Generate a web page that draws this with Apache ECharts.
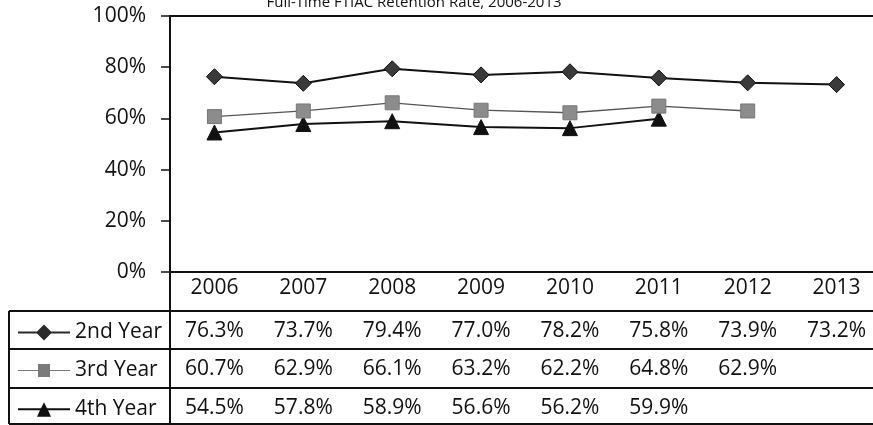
<!DOCTYPE html>
<html><head><meta charset="utf-8">
<script src="https://cdn.jsdelivr.net/npm/echarts@6/dist/echarts.min.js"></script>
<style>html,body{margin:0;padding:0;background:#fff}#c{width:873px;height:425px}</style>
</head><body><div id="c"></div>
<script>
const chartTitle = 'Full-Time FTIAC Retention Rate, 2006-2013';
const years = ['2006','2007','2008','2009','2010','2011','2012','2013'];
const seriesNames = ['2nd Year','3rd Year','4th Year'];
const year2 = [76.3, 73.7, 79.4, 77.0, 78.2, 75.8, 73.9, 73.2];
const year3 = [60.7, 62.9, 66.1, 63.2, 62.2, 64.8, 62.9, null];
const year4 = [54.5, 57.8, 58.9, 56.6, 56.2, 59.9, null, null];
const yMin = 0, yMax = 100, yStep = 20;

const FONT = 'Open Sans';
const FS = 21;
const gridLeft = 170, gridTop = 16, gridBottomY = 272, gridWidth = 711;
const rowOffsets = [39, 77, 116];
const tableBottom = 424;
const tableLeft = 9;
const W = 873, H = 425;

const fmt = v => (v == null ? '' : v.toFixed(1) + '%');
const rows = [year2, year3, year4];

const chart = echarts.init(document.getElementById('c'), null, {renderer: 'canvas'});

const xAxes = [{
  type: 'category', data: years, gridIndex: 0, position: 'bottom',
  axisLine: {show: true, lineStyle: {color: '#111', width: 2}},
  axisTick: {show: false},
  axisLabel: {interval: 0, margin: 6, fontSize: FS, fontFamily: FONT, color: '#111'}
}];
rows.forEach((r, i) => {
  xAxes.push({
    type: 'category', data: r.map(fmt), gridIndex: 0, position: 'bottom', offset: rowOffsets[i],
    axisLine: {show: true, onZero: false, lineStyle: {color: '#111', width: 2}},
    axisTick: {show: false},
    axisLabel: {interval: 0, margin: 10, fontSize: FS, fontFamily: FONT, color: '#111'}
  });
});
xAxes.push({
  type: 'category', data: years, gridIndex: 0, position: 'top',
  axisLine: {show: true, lineStyle: {color: '#111', width: 2}},
  axisTick: {show: false}, axisLabel: {show: false}
});

const styles = [
  {line: {color: '#111', width: 2}, item: {color: '#3a3a3a', borderColor: '#111', borderWidth: 1}, symbol: 'diamond', size: 16,
   legendIcon: 'path://M0,7H19L26,0L33,7H52V9H33L26,16L19,9H0Z', legendColor: '#2a2a2a'},
  {line: {color: '#555', width: 1.3}, item: {color: '#8c8c8c', borderColor: '#777', borderWidth: 1}, symbol: 'rect', size: 14,
   legendIcon: 'path://M0,7.4H20V1.5H32V7.4H52V8.6H32V14.5H20V8.6H0Z', legendColor: '#7a7a7a'},
  {line: {color: '#111', width: 2}, item: {color: '#111', borderColor: '#111', borderWidth: 1}, symbol: 'triangle', size: 15,
   legendIcon: 'path://M0,7H23L26,1L29,7H52V9H30L33,15.5H19L22,9H0Z', legendColor: '#111'}
];

const series = rows.map((r, i) => ({
  name: seriesNames[i], type: 'line', xAxisIndex: 0, yAxisIndex: 0,
  data: r, symbol: styles[i].symbol, symbolSize: styles[i].size,
  showSymbol: true, connectNulls: false, animation: false,
  lineStyle: styles[i].line, itemStyle: styles[i].item,
  emphasis: {disabled: true}, z: 3 + (2 - i)
}));

const legendTops = rowOffsets.map(o => gridBottomY + o + 11);
const legends = seriesNames.map((n, i) => ({
  data: [{name: n, icon: styles[i].legendIcon, itemStyle: {color: styles[i].legendColor, borderWidth: 0}}],
  left: 18, top: legendTops[i], orient: 'horizontal', padding: 0,
  itemWidth: 52, itemHeight: 16, selectedMode: false,
  textStyle: {fontSize: FS, fontFamily: FONT, color: '#111'}
}));

const gline = (x1, y1, x2, y2) => ({type: 'line', shape: {x1, y1, x2, y2}, style: {stroke: '#111', lineWidth: 2}, silent: true, z: 10});
const graphics = [
  gline(tableLeft, gridBottomY + rowOffsets[0], gridLeft, gridBottomY + rowOffsets[0]),
  gline(tableLeft, gridBottomY + rowOffsets[1], gridLeft, gridBottomY + rowOffsets[1]),
  gline(tableLeft, gridBottomY + rowOffsets[2], gridLeft, gridBottomY + rowOffsets[2]),
  gline(tableLeft, tableBottom, W, tableBottom),
  gline(tableLeft, gridBottomY + rowOffsets[0], tableLeft, tableBottom),
  gline(gridLeft, gridBottomY, gridLeft, tableBottom)
];

chart.setOption({
  backgroundColor: '#fff',
  animation: false,
  textStyle: {fontFamily: FONT},
  title: {
    text: chartTitle, left: 414, top: -5, textAlign: 'center', padding: 0,
    textStyle: {fontSize: 15, fontWeight: 'normal', fontFamily: FONT, color: '#111'}
  },
  legend: legends,
  grid: {left: gridLeft, top: gridTop, width: gridWidth, height: gridBottomY - gridTop,
         containLabel: false, outerBoundsMode: 'none'},
  xAxis: xAxes,
  yAxis: {
    type: 'value', min: yMin, max: yMax, interval: yStep,
    axisLine: {show: true, lineStyle: {color: '#111', width: 2}},
    axisTick: {show: true, inside: false, length: 9, lineStyle: {color: '#111', width: 1.5}},
    splitLine: {show: false},
    axisLabel: {formatter: '{value}%', margin: 24, fontSize: FS, fontFamily: FONT, color: '#111'}
  },
  series: series,
  graphic: graphics
});
</script>
</body></html>
